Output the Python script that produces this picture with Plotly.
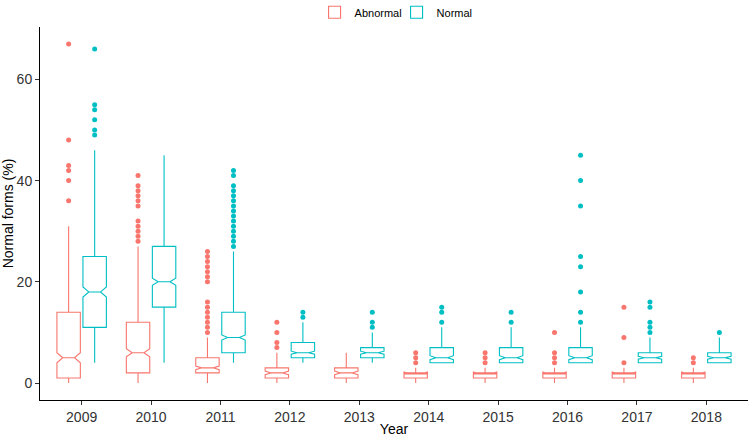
import plotly.graph_objects as go

years = ["2009", "2010", "2011", "2012", "2013", "2014", "2015", "2016", "2017", "2018"]

# Abnormal group: box stats per year
abn_q1 = [1, 2, 2, 1, 1, 1, 1, 1, 1, 1]
abn_med = [5, 6, 3, 2, 2, 2, 2, 2, 2, 2]
abn_q3 = [14, 12, 5, 3, 3, 2, 2, 2, 2, 2]
abn_lo = [0, 0, 0, 0, 0, 0, 0, 0, 0, 0]
abn_hi = [31, 27, 9, 6, 6, 3, 3, 3, 3, 3]
abn_notch = [1.0, 0.8, 0.35, 0.35, 0.35, 0.2, 0.2, 0.2, 0.2, 0.2]
abn_out = [
    [36, 40, 42, 43, 48, 67],
    [28, 29, 30, 31, 32, 35, 36, 37, 38, 39, 41],
    [10, 11, 12, 13, 14, 15, 16, 20, 21, 22, 23, 24, 25, 26],
    [7, 8, 10, 12],
    [],
    [4, 5, 6],
    [4, 5, 6],
    [4, 5, 6, 10],
    [4, 9, 15],
    [4, 5],
]

# Normal group: box stats per year
nor_q1 = [11, 15, 6, 5, 5, 4, 4, 4, 4, 4]
nor_med = [18, 20, 9, 6, 6, 5, 5, 5, 5, 5]
nor_q3 = [25, 27, 14, 8, 7, 7, 7, 7, 6, 6]
nor_lo = [4, 4, 4, 4, 4, 4, 4, 4, 4, 4]
nor_hi = [46, 45, 26, 12, 10, 11, 11, 11, 9, 9]
nor_notch = [1.0, 0.7, 0.5, 0.3, 0.3, 0.4, 0.4, 0.4, 0.3, 0.3]
nor_out = [
    [49, 50, 52, 54, 55, 66],
    [],
    [27, 28, 29, 30, 31, 32, 33, 34, 35, 36, 37, 38, 39, 41, 42],
    [13, 14],
    [11, 12, 14],
    [12, 14, 15],
    [12, 14],
    [12, 14, 18, 23, 25, 35, 40, 45],
    [10, 11, 12, 15, 16],
    [10],
]

RED = "#F8766D"
TEAL = "#00BFC4"


def box_trace(name, color, q1, med, q3, lo, hi, notch):
    return go.Box(
        name=name, x=years, offsetgroup=name,
        q1=q1, median=med, q3=q3, lowerfence=lo, upperfence=hi,
        notched=True, notchspan=notch, notchwidth=0.25,
        boxpoints=False, whiskerwidth=0,
        fillcolor="rgba(255,255,255,0)",
        line=dict(color=color, width=1.1),
    )


def outlier_trace(name, color, out):
    # invisible box, only its sample points are shown
    xs = [yr for yr, vals in zip(years, out) for _ in vals]
    ys = [v for vals in out for v in vals]
    return go.Box(
        name=name, x=xs, y=ys, offsetgroup=name, showlegend=False,
        boxpoints="all", pointpos=0, jitter=0, whiskerwidth=0,
        fillcolor="rgba(255,255,255,0)",
        line=dict(color="rgba(0,0,0,0)", width=0),
        marker=dict(color=color, size=5, line=dict(width=0)),
        hoverinfo="y",
    )


fig = go.Figure()
fig.add_trace(box_trace("Abnormal", RED, abn_q1, abn_med, abn_q3, abn_lo, abn_hi, abn_notch))
fig.add_trace(box_trace("Normal", TEAL, nor_q1, nor_med, nor_q3, nor_lo, nor_hi, nor_notch))
fig.add_trace(outlier_trace("Abnormal", RED, abn_out))
fig.add_trace(outlier_trace("Normal", TEAL, nor_out))

fig.update_layout(
    width=749, height=438,
    margin=dict(l=40, r=1, t=27, b=38),
    paper_bgcolor="white", plot_bgcolor="white",
    font=dict(family="Arial", size=14, color="black"),
    boxmode="group", boxgap=0.25, boxgroupgap=0.1,
    legend=dict(orientation="h", xref="container", yref="container",
                x=0.42, xanchor="left", y=0.972, yanchor="middle",
                font=dict(size=11), itemwidth=30, entrywidth=37),
)
fig.update_xaxes(
    type="category", range=[-0.6, 9.6],
    title=dict(text="Year", font=dict(size=14), standoff=0),
    showline=True, linecolor="black", linewidth=1,
    ticks="outside", ticklen=4, tickcolor="#333333",
    tickfont=dict(size=14, color="#333333"),
    showgrid=False, zeroline=False,
)
fig.update_yaxes(
    range=[-3.35, 70.35], tickvals=[0, 20, 40, 60],
    title=dict(text="Normal forms (%)", font=dict(size=14), standoff=6),
    showline=True, linecolor="black", linewidth=1,
    ticks="outside", ticklen=4, tickcolor="#333333",
    tickfont=dict(size=14, color="#333333"),
    showgrid=False, zeroline=False,
)

# the page body has a default margin; drop it so the figure fills the window
fig.write_html("out.html", config={"displayModeBar": False},
               post_script="document.body.style.margin = '0';")
